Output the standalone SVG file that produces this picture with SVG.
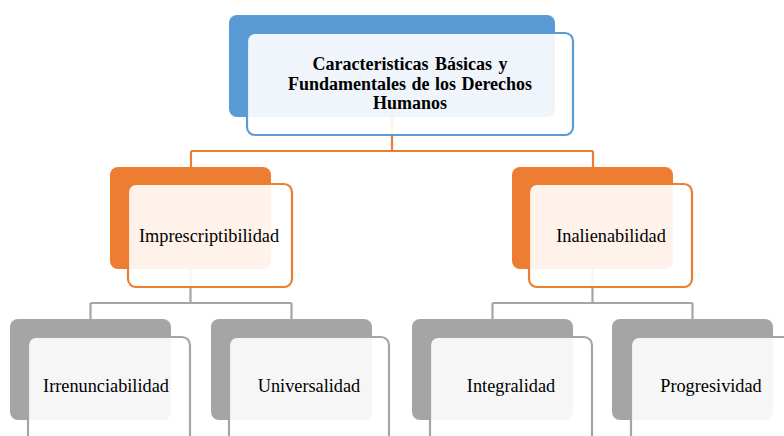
<svg xmlns="http://www.w3.org/2000/svg" width="784" height="436" viewBox="0 0 784 436">
<style>
.bg{fill:#fff}
.b1{fill:#5B9BD5}
.b2{fill:#ED7D31}
.b3{fill:#A5A5A5}
.f{fill:#fff;fill-opacity:0.9;stroke-width:2.2}
.f1{stroke:#5B9BD5}
.f2{stroke:#ED7D31}
.f3{stroke:#A5A5A5}
.lo{fill:none;stroke:#ED7D31;stroke-width:2.2}
.lg{fill:none;stroke:#A5A5A5;stroke-width:2.2}
text{font-family:"Liberation Serif","Times New Roman",serif;fill:#000;text-anchor:middle}
.t{font-size:18.3px}
.tt{font-size:18px;font-weight:bold}
</style>
<rect class="bg" x="0" y="0" width="784" height="436"/>
<g id="connectors">
<path class="lo" d="M392 117V151M191 151H593M191 151V167M593 151V167"/>
<path class="lg" d="M190.5 269V303M90.5 303H291.5M90.5 303V319M291.5 303V319"/>
<path class="lg" d="M592.5 269V303M492.5 303H692.5M492.5 303V319M692.5 303V319"/>
</g>
<g id="root">
<rect class="b1" x="229" y="15" width="326" height="102" rx="8"/>
<rect class="f f1" x="247" y="33" width="326" height="102" rx="8"/>
<text class="tt" x="410" y="70" word-spacing="2">Caracteristicas Básicas y</text>
<text class="tt" x="410" y="90" word-spacing="1">Fundamentales de los Derechos</text>
<text class="tt" x="410" y="109">Humanos</text>
</g>
<g id="imprescriptibilidad">
<rect class="b2" x="110" y="167" width="161" height="102" rx="8"/>
<rect class="f f2" x="128" y="184" width="164" height="103" rx="8"/>
<text class="t" x="209" y="242">Imprescriptibilidad</text>
</g>
<g id="inalienabilidad">
<rect class="b2" x="512" y="167" width="161" height="102" rx="8"/>
<rect class="f f2" x="529" y="184" width="163" height="103" rx="8"/>
<text class="t" x="611" y="242">Inalienabilidad</text>
</g>
<g id="irrenunciabilidad">
<rect class="b3" x="10" y="319" width="161" height="101" rx="8"/>
<rect class="f f3" x="28" y="337" width="162" height="110" rx="8"/>
<text class="t" x="106" y="392">Irrenunciabilidad</text>
</g>
<g id="universalidad">
<rect class="b3" x="211" y="319" width="161" height="101" rx="8"/>
<rect class="f f3" x="229" y="337" width="160" height="110" rx="8"/>
<text class="t" x="309" y="392">Universalidad</text>
</g>
<g id="integralidad">
<rect class="b3" x="412" y="319" width="161" height="101" rx="8"/>
<rect class="f f3" x="430" y="337" width="162" height="110" rx="8"/>
<text class="t" x="511" y="392">Integralidad</text>
</g>
<g id="progresividad">
<rect class="b3" x="612" y="319" width="161" height="101" rx="8"/>
<rect class="f f3" x="631" y="337" width="162" height="110" rx="8"/>
<text class="t" x="711" y="392">Progresividad</text>
</g>
</svg>
